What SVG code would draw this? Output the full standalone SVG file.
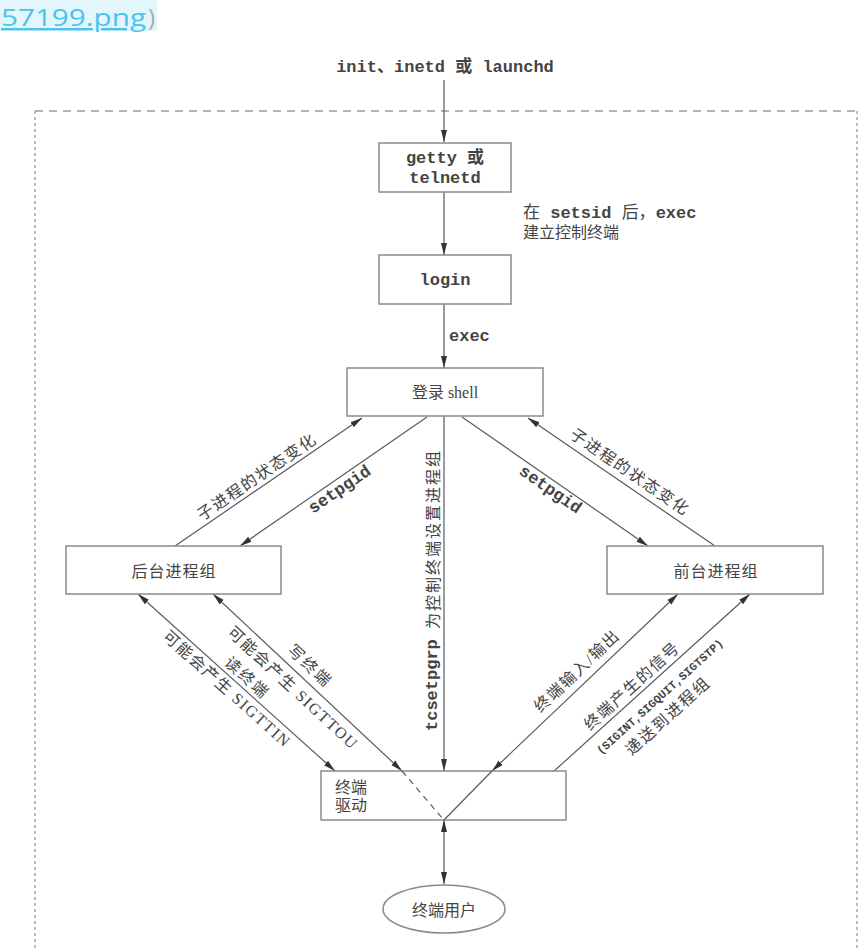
<svg xmlns="http://www.w3.org/2000/svg" width="864" height="948" viewBox="0 0 864 948">
<defs>
<marker id="ah" viewBox="0 0 12 8" refX="12" refY="4" markerWidth="12" markerHeight="8" markerUnits="userSpaceOnUse" orient="auto-start-reverse"><path d="M0,1 L12,4 L0,7 z" fill="#333"/></marker>
<style>
.box{fill:#fff;stroke:#8a8a8a;stroke-width:1.5}
.ln{fill:none;stroke:#5a5a5a;stroke-width:1.2}
.mono{font-family:"Liberation Mono","Noto Sans CJK SC",monospace;font-weight:bold;font-size:17px;fill:#444}
.cjk{font-family:"Liberation Serif","Noto Sans CJK SC",serif;font-size:16px;fill:#444}
.c{text-anchor:middle;dominant-baseline:central}
.sm{font-family:"Liberation Mono",monospace;font-weight:bold;font-size:11.5px;fill:#444}
</style>
</defs>
<rect x="0" y="0" width="864" height="948" fill="#fff"/>
<rect x="0" y="0" width="157" height="31" fill="#e3f6fc"/>
<text x="1" y="26" font-family="'Open Sans',sans-serif" font-size="24" fill="#4cc3ec" text-decoration="underline" textLength="145" lengthAdjust="spacingAndGlyphs">57199.png</text>
<text x="148" y="26" font-family="'Open Sans',sans-serif" font-size="24" fill="#aaa">)</text>

<g id="frame" fill="none" stroke="#9a9a9a" stroke-width="1.3">
<line x1="35" y1="111" x2="857" y2="111" stroke-dasharray="8 6"/>
<line x1="35" y1="111" x2="35" y2="948" stroke-dasharray="3 3"/>
<line x1="857" y1="111" x2="857" y2="948" stroke-dasharray="3 3"/>
</g>

<g id="connectors">
<line class="ln" x1="444" y1="80" x2="444" y2="142" marker-end="url(#ah)"/>
<line class="ln" x1="444" y1="192" x2="444" y2="255" marker-end="url(#ah)"/>
<line class="ln" x1="444" y1="304" x2="444" y2="368" marker-end="url(#ah)"/>
<line class="ln" x1="175" y1="546" x2="362" y2="418" marker-end="url(#ah)"/>
<line class="ln" x1="427" y1="417" x2="240" y2="546" marker-end="url(#ah)"/>
<line class="ln" x1="462" y1="417" x2="648" y2="546" marker-end="url(#ah)"/>
<line class="ln" x1="715" y1="546" x2="528" y2="418" marker-end="url(#ah)"/>
<line class="ln" x1="444" y1="416" x2="444" y2="771" marker-end="url(#ah)"/>
<line class="ln" x1="138" y1="594" x2="335" y2="771" marker-start="url(#ah)" marker-end="url(#ah)"/>
<line class="ln" x1="213" y1="594" x2="402" y2="771" marker-start="url(#ah)" marker-end="url(#ah)"/>
<line class="ln" x1="678" y1="594" x2="492" y2="771" marker-start="url(#ah)" marker-end="url(#ah)"/>
<polyline class="ln" points="750,594 553,772 444,820" marker-start="url(#ah)"/>
<line class="ln" x1="444" y1="820" x2="444" y2="884" marker-start="url(#ah)" marker-end="url(#ah)"/>
</g>

<g id="src"><text class="mono c" x="445" y="67">init、inetd 或 launchd</text></g>

<g id="getty">
<rect class="box" x="379" y="143" width="132" height="49"/>
<text class="mono c" x="445" y="158">getty 或</text>
<text class="mono c" x="445" y="178">telnetd</text>
</g>
<g id="lbl-setsid">
<text class="mono" font-size="16" x="523" y="218"><tspan font-family="'Noto Sans CJK SC',sans-serif" font-weight="normal">在</tspan> setsid <tspan font-family="'Noto Sans CJK SC',sans-serif" font-weight="normal">后，</tspan>exec</text>
<text class="cjk" x="523" y="238">建立控制终端</text>
</g>

<g id="login">
<rect class="box" x="379" y="255" width="132" height="49"/>
<text class="mono c" x="445" y="280">login</text>
</g>
<text class="mono" x="449" y="341">exec</text>

<g id="shell">
<rect class="box" x="347" y="368" width="196" height="48"/>
<text class="cjk c" font-size="17" x="445" y="392">登录 shell</text>
</g>

<g id="bg">
<rect class="box" x="66" y="546" width="215" height="48"/>
<text class="cjk c" x="174" y="571" letter-spacing="1">后台进程组</text>
</g>
<g id="fg">
<rect class="box" x="607" y="546" width="216" height="48"/>
<text class="cjk c" x="716" y="571" letter-spacing="1">前台进程组</text>
</g>

<g id="labels">
<text class="cjk c" letter-spacing="1.6" transform="translate(257,477) rotate(-34.4)">子进程的状态变化</text>
<text class="mono c" transform="translate(340,490) rotate(-34.4)">setpgid</text>
<text class="mono c" transform="translate(550,490) rotate(34.7)">setpgid</text>
<text class="cjk c" letter-spacing="1.6" transform="translate(630,472) rotate(34.4)">子进程的状态变化</text>
<text class="mono c" font-size="15" transform="translate(432,590) rotate(-90)">tcsetpgrp <tspan font-family="'Noto Sans CJK SC',sans-serif" font-weight="normal" font-size="16" letter-spacing="2">为控制终端设置进程组</tspan></text>
<text class="cjk c" font-size="15" letter-spacing="2" transform="translate(247,678) rotate(41.9)">读终端</text>
<text class="cjk c" font-size="15" letter-spacing="1.5" transform="translate(227,689) rotate(41.9)">可能会产生 SIGTTIN</text>
<text class="cjk c" font-size="15" letter-spacing="2" transform="translate(310,666) rotate(43)">写终端</text>
<text class="cjk c" font-size="15" letter-spacing="1.5" transform="translate(293,688) rotate(43)">可能会产生 SIGTTOU</text>
<text class="cjk c" font-size="15.5" letter-spacing="1.5" transform="translate(577,671) rotate(-43.6)">终端输入/输出</text>
<text class="cjk c" font-size="15" letter-spacing="1.5" transform="translate(632,686) rotate(-42.1)">终端产生的信号</text>
<text class="sm c" transform="translate(660,697) rotate(-42.1)">(SIGINT,SIGQUIT,SIGTSTP)</text>
<text class="cjk c" font-size="15.5" letter-spacing="2" transform="translate(668,716) rotate(-42.1)">递送到进程组</text>
</g>

<g id="tty">
<rect class="box" x="321" y="771" width="245" height="49"/>
<line x1="402" y1="771" x2="443" y2="819" stroke="#5a5a5a" stroke-width="1.2" stroke-dasharray="6 5"/>
<line x1="492" y1="771" x2="444" y2="820" stroke="#5a5a5a" stroke-width="1.2"/>
<text class="cjk" x="335" y="793">终端</text>
<text class="cjk" x="335" y="811">驱动</text>
</g>

<g id="user">
<ellipse cx="444" cy="909" rx="61" ry="24" fill="#fff" stroke="#8a8a8a" stroke-width="1.5"/>
<text class="cjk c" x="444" y="910">终端用户</text>
</g>
</svg>
